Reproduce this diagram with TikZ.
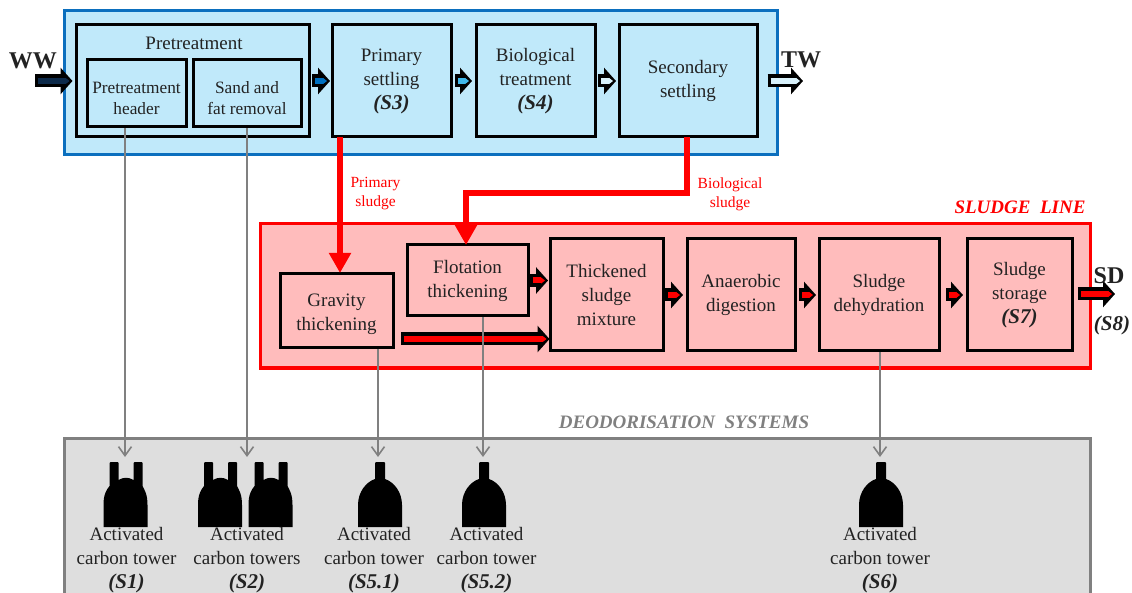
\documentclass[tikz,border=0pt]{standalone}
\usepackage{fontspec}
\setmainfont{Liberation Serif}
\usetikzlibrary{arrows.meta}
\definecolor{txt}{HTML}{222222}
\definecolor{bluefill}{HTML}{C0E9FA}
\definecolor{blueedge}{HTML}{0B6FBE}
\definecolor{pinkfill}{HTML}{FFBCBC}
\definecolor{greyfill}{HTML}{DEDEDE}
\definecolor{greyedge}{HTML}{808080}
\definecolor{navy}{HTML}{0D2A4A}
\definecolor{midblue}{HTML}{0070C0}
\definecolor{skyblue}{HTML}{3FB8EA}
\definecolor{paleblue}{HTML}{D8F1FB}
\definecolor{redline}{HTML}{FF0000}
\tikzset{
  box/.style={draw=black,line width=3pt,align=center,inner sep=0pt,text=txt,font=\fontsize{19}{24}\selectfont},
  panel/.style={line width=3pt,inner sep=0pt},
  lab/.style={inner sep=0pt,align=center,text=txt,font=\fontsize{19}{24}\selectfont},
  tag/.style={inner sep=0pt,text=txt,font=\fontsize{24}{26}\selectfont\bfseries},
  sludge/.style={inner sep=0pt,align=center,text=redline,font=\fontsize{15.5}{19}\selectfont},
  redflow/.style={draw=redline,line width=6pt,-{Triangle[length=20pt,width=21pt]}},
  greyflow/.style={draw=greyedge,line width=1.6pt,-{Straight Barb[length=9pt,width=13pt,line width=1.6pt]}},
  tower/.style={fill=black,draw=none},
}
\newcommand{\stp}[1]{{\fontsize{21}{24}\selectfont\textbf{\textit{#1}}}}
\newcommand{\lowr}{\rule{0pt}{21pt}}
% block arrow: from, to, inner colour, start gap, end gap
\newcommand{\blockarrow}[5]{%
  \draw[line width=13pt,draw=black,shorten <=#4pt,shorten >=#5pt,-{Triangle[length=12pt,width=26pt]}] (#1) -- (#2);
  \draw[line width=6pt,draw=#3,shorten <=#4pt+3pt,shorten >=#5pt+3pt,-{Triangle[length=4pt,width=6pt]}] (#1) -- (#2);
}
\newcommand{\towertwo}[1]{%
  \fill[tower] (#1-22,527) -- (#1-22,505) .. controls (#1-22,494) and (#1-19,490) .. (#1-16,486) -- (#1-16,463) -- (#1-15,462) -- (#1-8,462) -- (#1-7,463)
    -- (#1-7,480) .. controls (#1-2,477) and (#1+3,477) .. (#1+8,480) -- (#1+8,463) -- (#1+9,462) -- (#1+16,462) -- (#1+17,463) -- (#1+17,486)
    .. controls (#1+19,490) and (#1+22,494) .. (#1+22,505) -- (#1+22,527) -- cycle;
}
\newcommand{\towerone}[1]{%
  \fill[tower] (#1-22,527) -- (#1-22,505) .. controls (#1-22,492) and (#1-14,482) .. (#1-5,479) -- (#1-5,463) -- (#1-4,462) -- (#1+4,462) -- (#1+5,463)
    -- (#1+5,479) .. controls (#1+14,482) and (#1+22,492) .. (#1+22,505) -- (#1+22,527) -- cycle;
}
\begin{document}
\begin{tikzpicture}[x=1pt,y=-1pt]
\useasboundingbox (0,0) rectangle (1132,593);
% panels
\begin{scope}
\clip (0,0) rectangle (1132,593);
\node[panel,draw=greyedge,fill=greyfill,minimum width=1026pt,minimum height=170pt] (deo) at (577,523) {};
\end{scope}
\node[panel,draw=blueedge,fill=bluefill,minimum width=713pt,minimum height=144pt] (water) at (420.5,83) {};
\node[panel,draw=redline,fill=pinkfill,minimum width=830pt,minimum height=144pt] (line) at (675,296) {};
% boxes
\node[box,fill=bluefill,minimum width=233pt,minimum height=112pt] (pre) at (192.5,81) {};
\node[lab] (pretitle) at (194,43) {Pretreatment};
\node[box,fill=bluefill,minimum width=99pt,minimum height=67pt,font=\fontsize{17.3}{21}\selectfont] (head) at (136.5,93.5) {\lowr Pretreatment\\header};
\node[box,fill=bluefill,minimum width=108pt,minimum height=67pt,font=\fontsize{17.3}{21}\selectfont] (sand) at (247,93.5) {\lowr Sand and\\fat removal};
\node[box,fill=bluefill,minimum width=119pt,minimum height=112pt] (prim) at (391.5,81) {Primary\\settling\\\stp{(S3)}};
\node[box,fill=bluefill,minimum width=119pt,minimum height=112pt] (bio) at (535.5,81) {Biological\\treatment\\\stp{(S4)}};
\node[box,fill=bluefill,minimum width=138pt,minimum height=112pt] (sec) at (688,81) {Secondary\\settling};
\node[box,fill=pinkfill,minimum width=113pt,minimum height=74pt] (grav) at (336.5,310.5) {\lowr Gravity\\thickening};
\node[box,fill=pinkfill,minimum width=121pt,minimum height=71pt] (flot) at (467.5,280.5) {Flotation\\thickening};
\node[box,fill=pinkfill,minimum width=113pt,minimum height=112pt] (mix) at (606.5,295) {Thickened\\sludge\\mixture};
\node[box,fill=pinkfill,minimum width=108pt,minimum height=112pt] (ana) at (741,295) {Anaerobic\\digestion};
\node[box,fill=pinkfill,minimum width=120pt,minimum height=112pt] (deh) at (879,295) {Sludge\\dehydration};
\node[box,fill=pinkfill,minimum width=105pt,minimum height=112pt] (sto) at (1019.5,295) {Sludge\\storage\\\stp{(S7)}};
% end points
\coordinate (wwin) at (35,81);
\coordinate (twout) at (803,81);
\coordinate (sdout) at (1115,294);
\coordinate (gravout) at (401,339);
\coordinate (mixin) at (550,339);
\coordinate (t1) at (125,457);
\coordinate (t2) at (247,457);
\coordinate (t3) at (378,457);
\coordinate (t4) at (483,457);
\coordinate (t5) at (880,457);
\coordinate (primout) at (340,137);
\coordinate (gravin) at (340,273);
\coordinate (secout) at (687,137);
\coordinate (flotin) at (466,245);
% block arrows
\blockarrow{wwin}{pre.west |- wwin}{navy}{0}{2}
\blockarrow{pre.east}{prim.west}{midblue}{1.5}{0.5}
\blockarrow{prim.east}{bio.west}{skyblue}{2.5}{2.5}
\blockarrow{bio.east}{sec.west}{paleblue}{1.5}{1.5}
\blockarrow{sec.east |- twout}{twout}{paleblue}{9}{0}
\blockarrow{flot.east}{flot.east -| mix.west}{redline}{0}{0.5}
\blockarrow{gravout}{mixin}{redline}{0}{0.5}
\blockarrow{mix.east}{ana.west}{redline}{0.5}{2.5}
\blockarrow{ana.east}{deh.west}{redline}{2.5}{1.5}
\blockarrow{deh.east}{sto.west}{redline}{5.5}{2.5}
\blockarrow{sto.east |- sdout}{sdout}{redline}{4.5}{0}
% sludge lines
\draw[redflow] (primout) -- (gravin);
\draw[redflow] (secout) |- (466,193) -- (flotin);
\node[sludge] (sl1) at (375.5,194) {Primary\\sludge};
\node[sludge] (sl2) at (730,194) {Biological\\sludge};
% grey connectors
\draw[greyflow] (t1 |- head.south) -- (t1);
\draw[greyflow] (t2 |- sand.south) -- (t2);
\draw[greyflow] (t3 |- grav.south) -- (t3);
\draw[greyflow] (t4 |- flot.south) -- (t4);
\draw[greyflow] (t5 |- deh.south) -- (t5);
% towers
\towertwo{125.5}
\towertwo{220}
\towertwo{270.5}
\towerone{380}
\towerone{484}
\towerone{881}
% labels
\node[tag] (ww) at (33,61) {WW};
\node[tag] (tw) at (801,60) {TW};
\node[tag] (sd) at (1109,276) {SD};
\node[lab] (s8) at (1112,325) {\stp{(S8)}};
\node[inner sep=0pt,text=redline,font=\fontsize{19}{20}\selectfont\bfseries\itshape] (sl) at (1020,207) {SLUDGE\ \ LINE};
\node[inner sep=0pt,text=greyedge,font=\fontsize{19}{20}\selectfont\bfseries\itshape] (ds) at (684,422) {DEODORISATION\ \ SYSTEMS};
\node[lab] (a1) at (126.5,560) {Activated\\carbon tower\\\stp{(S1)}};
\node[lab] (a2) at (247,560) {Activated\\carbon towers\\\stp{(S2)}};
\node[lab] (a3) at (374,560) {Activated\\carbon tower\\\stp{(S5.1)}};
\node[lab] (a4) at (486.5,560) {Activated\\carbon tower\\\stp{(S5.2)}};
\node[lab] (a5) at (880,560) {Activated\\carbon tower\\\stp{(S6)}};
\end{tikzpicture}
\end{document}
